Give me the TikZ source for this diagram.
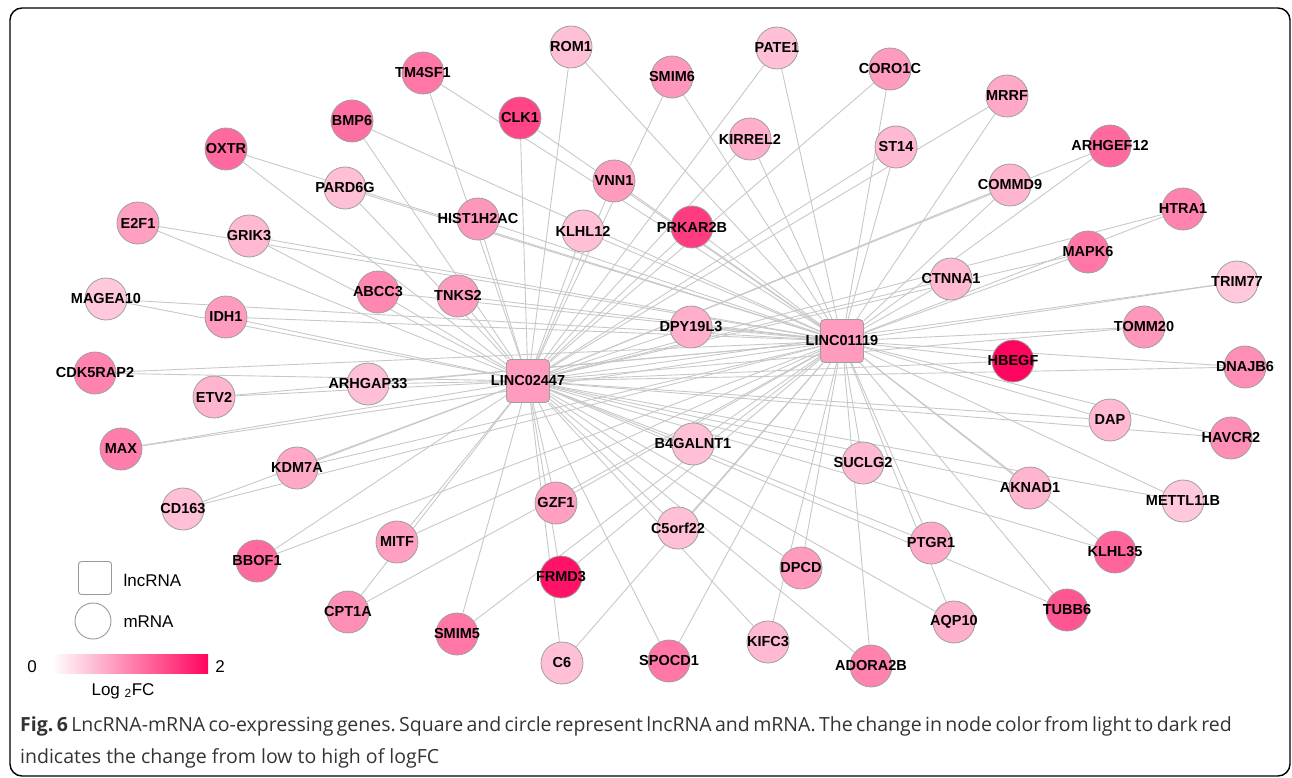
\documentclass[tikz,border=0pt]{standalone}
\usepackage{fontspec}
\setmainfont{Liberation Sans}
\newfontfamily\capfont{Open Sans}
\usetikzlibrary{backgrounds}
\frenchspacing

\definecolor{rna}{RGB}{255,5,95}
\definecolor{edgegray}{RGB}{200,200,200}

\tikzset{
  overlabel/.style = {execute at begin node = {\hbox to 0pt\bgroup\hss},
                      execute at end node = {\hss\egroup}},
  mrna/.style = {circle, draw = gray!75, line width = 0.8pt, fill = rna!#1!white,
                 minimum size = 42pt, inner sep = 0pt, overlabel,
                 font = \bfseries\fontsize{14.5}{17}\selectfont},
  lnc/.style  = {rectangle, rounded corners = 4pt, draw = gray!75, line width = 0.8pt,
                 fill = rna!#1!white, minimum size = 43pt, inner sep = 0pt, overlabel,
                 font = \bfseries\fontsize{14.5}{17}\selectfont},
  link/.style = {draw = edgegray, line width = 0.9pt},
  legtext/.style = {font = \fontsize{17}{20}\selectfont}
}

\begin{document}
\begin{tikzpicture}[x = 1pt, y = -1pt]
\useasboundingbox (0, 0) rectangle (1292, 778);
\draw[line width = 1.4pt, rounded corners = 12pt] (10, 8) rectangle (1290, 776);

% the two lncRNA
\node[lnc=40] (LINC02447) at (528, 381) {LINC02447};
\node[lnc=40] (LINC01119) at (842, 341) {LINC01119};

% mRNA, top
\node[mrna=55] (TM4SF1) at (423, 73) {TM4SF1};
\node[mrna=58] (BMP6) at (352, 121) {BMP6};
\node[mrna=60] (OXTR) at (226, 149) {OXTR};
\node[mrna=25] (PARD6G) at (345, 188) {PARD6G};
\node[mrna=38] (E2F1) at (138, 223) {E2F1};
\node[mrna=28] (GRIK3) at (249, 236) {GRIK3};
\node[mrna=25] (ROM1) at (571, 47) {ROM1};
\node[mrna=25] (PATE1) at (777, 48) {PATE1};
\node[mrna=42] (SMIM6) at (672, 77) {SMIM6};
\node[mrna=75] (CLK1) at (520, 118) {CLK1};
\node[mrna=32] (KIRREL2) at (750, 139) {KIRREL2};
\node[mrna=40] (VNN1) at (614, 181) {VNN1};
\node[mrna=42] (HIST1H2AC) at (478, 219) {HIST1H2AC};
\node[mrna=25] (KLHL12) at (583, 231) {KLHL12};
\node[mrna=78] (PRKAR2B) at (692, 227) {PRKAR2B};
\node[mrna=40] (CORO1C) at (890, 69) {CORO1C};
\node[mrna=35] (MRRF) at (1007, 96) {MRRF};
\node[mrna=28] (ST14) at (896, 147) {ST14};
\node[mrna=60] (ARHGEF12) at (1110, 146) {ARHGEF12};
\node[mrna=30] (COMMD9) at (1010, 185) {COMMD9};
\node[mrna=50] (HTRA1) at (1183, 209) {HTRA1};
\node[mrna=55] (MAPK6) at (1088, 252) {MAPK6};

% mRNA, middle
\node[mrna=22] (MAGEA10) at (106, 299) {MAGEA10};
\node[mrna=40] (IDH1) at (226, 317) {IDH1};
\node[mrna=48] (ABCC3) at (378, 292) {ABCC3};
\node[mrna=40] (TNKS2) at (458, 296) {TNKS2};
\node[mrna=50] (CDK5RAP2) at (95, 373) {CDK5RAP2};
\node[mrna=30] (ETV2) at (214, 397) {ETV2};
\node[mrna=25] (ARHGAP33) at (368, 384) {ARHGAP33};
\node[mrna=52] (MAX) at (121, 449) {MAX};
\node[mrna=35] (KDM7A) at (297, 468) {KDM7A};
\node[mrna=32] (DPY19L3) at (691, 327) {DPY19L3};
\node[mrna=25] (B4GALNT1) at (693, 444) {B4GALNT1};
\node[mrna=28] (SUCLG2) at (863, 463) {SUCLG2};
\node[mrna=28] (CTNNA1) at (951, 279) {CTNNA1};
\node[mrna=22] (TRIM77) at (1237, 282) {TRIM77};
\node[mrna=42] (TOMM20) at (1144, 327) {TOMM20};
\node[mrna=100] (HBEGF) at (1013, 361) {HBEGF};
\node[mrna=45] (DNAJB6) at (1245, 367) {DNAJB6};
\node[mrna=28] (DAP) at (1110, 420) {DAP};
\node[mrna=45] (HAVCR2) at (1231, 438) {HAVCR2};
\node[mrna=30] (AKNAD1) at (1030, 488) {AKNAD1};
\node[mrna=22] (METTL11B) at (1183, 501) {METTL11B};

% mRNA, bottom
\node[mrna=25] (CD163) at (183, 509) {CD163};
\node[mrna=60] (BBOF1) at (257, 561) {BBOF1};
\node[mrna=38] (MITF) at (397, 542) {MITF};
\node[mrna=45] (CPT1A) at (348, 612) {CPT1A};
\node[mrna=38] (GZF1) at (556, 503) {GZF1};
\node[mrna=25] (C5orf22) at (678, 528) {C5orf22};
\node[mrna=95] (FRMD3) at (561, 577) {FRMD3};
\node[mrna=40] (DPCD) at (801, 568) {DPCD};
\node[mrna=55] (SMIM5) at (457, 634) {SMIM5};
\node[mrna=25] (C6) at (562, 663) {C6};
\node[mrna=55] (SPOCD1) at (669, 661) {SPOCD1};
\node[mrna=28] (KIFC3) at (768, 642) {KIFC3};
\node[mrna=50] (ADORA2B) at (871, 666) {ADORA2B};
\node[mrna=35] (PTGR1) at (931, 543) {PTGR1};
\node[mrna=62] (KLHL35) at (1115, 552) {KLHL35};
\node[mrna=32] (AQP10) at (954, 622) {AQP10};
\node[mrna=68] (TUBB6) at (1067, 610) {TUBB6};

% co-expression links
\begin{scope}[on background layer]
\foreach \g in {TM4SF1, BMP6, OXTR, PARD6G, E2F1, GRIK3, ROM1, PATE1, SMIM6, CLK1,
  KIRREL2, VNN1, HIST1H2AC, KLHL12, PRKAR2B, CORO1C, MRRF, ST14, ARHGEF12, COMMD9,
  HTRA1, MAPK6, MAGEA10, IDH1, ABCC3, TNKS2, CDK5RAP2, ETV2, ARHGAP33, MAX, KDM7A,
  DPY19L3, B4GALNT1, SUCLG2, CTNNA1, TRIM77, TOMM20, HBEGF, DNAJB6, DAP, HAVCR2,
  AKNAD1, METTL11B, CD163, BBOF1, MITF, CPT1A, GZF1, C5orf22, FRMD3, DPCD, SMIM5,
  C6, SPOCD1, KIFC3, ADORA2B, PTGR1, KLHL35, AQP10, TUBB6}
{
  \draw[link] (\g) -- (LINC02447);
  \draw[link] (\g) -- (LINC01119);
}
\end{scope}

% legend
\node[draw = gray!80, line width = 0.9pt, rounded corners = 3pt, minimum size = 33pt] (legsq) at (95, 578) {};
\node[legtext, anchor = west] (leglnc) at (120, 580) {lncRNA};
\node[circle, draw = gray!80, line width = 0.9pt, minimum size = 36pt] (legci) at (93, 621) {};
\node[legtext, anchor = west] (legm) at (120, 622) {mRNA};
\shade[left color = white, right color = rna] (52, 654) rectangle (208, 673);
\node[legtext] (lowfc) at (32, 667) {0};
\node[legtext] (highfc) at (220, 667) {2};
\node[legtext] (fclabel) at (123, 691) {Log \textsubscript{2}FC};

% caption
\node[anchor = base west, inner sep = 0pt, text = black!80, font = \capfont\fontsize{19.5}{23}\selectfont] (cap1) at (20, 731)
  {\hbox to 1205pt{\textbf{Fig. 6} LncRNA-mRNA co-expressing genes. Square and circle represent lncRNA and mRNA. The change in node color from light to dark red}};
\node[anchor = base west, inner sep = 0pt, text = black!80, font = \capfont\fontsize{19.5}{23}\selectfont] (cap2) at (20, 763)
  {indicates the change from low to high of logFC};
\end{tikzpicture}
\end{document}
